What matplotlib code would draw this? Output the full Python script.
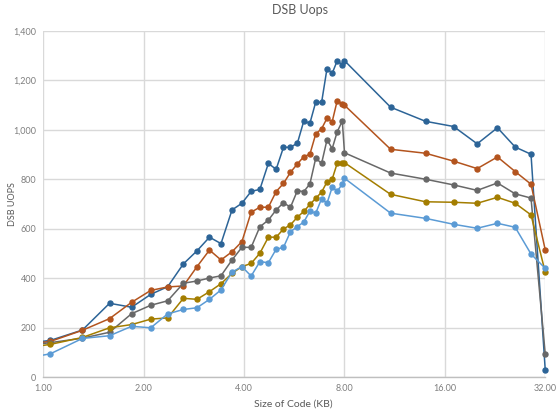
import matplotlib
matplotlib.use("Agg")
import matplotlib.pyplot as plt
from matplotlib.patches import Rectangle
from matplotlib.ticker import FuncFormatter, FixedLocator

plt.rcParams['font.family'] = ['Lato', 'DejaVu Sans']

# Code size in KB (first point sits just left of the axis range)
sizes_kb = [0.79, 1.05, 1.31, 1.58, 1.84, 2.10, 2.36, 2.63, 2.89, 3.15,
            3.41, 3.68, 3.94, 4.20, 4.46, 4.73, 4.99, 5.25, 5.51, 5.78,
            6.04, 6.30, 6.56, 6.83, 7.09, 7.35, 7.61, 7.88, 8.00,
            11, 14, 17, 20, 23, 26, 29, 32]

uops_a = [130, 149, 191, 299, 283, 335, 366, 458, 511, 566,
          540, 676, 703, 751, 759, 864, 840, 929, 929, 946,
          1035, 1026, 1112, 1110, 1247, 1228, 1279, 1262, 1279,
          1091, 1034, 1013, 943, 1008, 930, 901, 28]

uops_b = [125, 145, 190, 237, 303, 351, 365, 369, 447, 514,
          474, 507, 548, 667, 687, 687, 750, 783, 828, 862,
          891, 901, 983, 1004, 1046, 1033, 1118, 1104, 1099,
          921, 905, 873, 843, 890, 831, 780, 514]

uops_c = [120, 140, 158, 182, 257, 291, 309, 380, 389, 401,
          410, 474, 525, 525, 608, 635, 676, 705, 687, 754,
          750, 781, 885, 864, 959, 924, 992, 1035, 907,
          825, 800, 777, 755, 785, 741, 724, 93]

uops_d = [110, 133, 161, 200, 213, 235, 240, 319, 315, 346,
          378, 420, 447, 460, 501, 566, 566, 599, 616, 647,
          670, 698, 723, 748, 789, 801, 865, 867, 867,
          739, 709, 707, 703, 727, 703, 656, 424]

uops_e = [65, 95, 157, 168, 206, 200, 256, 274, 281, 315,
          353, 425, 447, 409, 467, 463, 517, 525, 588, 609,
          627, 671, 663, 721, 703, 768, 752, 780, 804,
          663, 642, 618, 602, 622, 606, 498, 440]

series = [uops_a, uops_b, uops_c, uops_d, uops_e]
colors = ['#2C6497', '#B3541E', '#686868', '#A37D00', '#5B9BD5']

x_ticks = [1, 2, 4, 8, 16, 32]
y_ticks = [0, 200, 400, 600, 800, 1000, 1200, 1400]

fig = plt.figure(figsize=(5.56, 4.12), dpi=100)
ax = fig.add_axes([0.0779, 0.0842, 0.9028, 0.8413])

# clip only on the left so end markers at 32 KB stay whole
clip_box = Rectangle((0, -0.05), 1.05, 1.1, transform=ax.transAxes,
                     fill=False, visible=False)
ax.add_patch(clip_box)

for vals, col in zip(series, colors):
    line, = ax.plot(sizes_kb, vals, color=col, lw=1.1, marker='o', ms=3.6,
                    mec=col, mfc=col, zorder=3)
    line.set_clip_path(clip_box)

ax.set_xscale('log', base=2)
ax.set_xlim(1, 32)
ax.set_ylim(0, 1400)
ax.xaxis.set_major_locator(FixedLocator(x_ticks))
ax.xaxis.set_minor_locator(FixedLocator([]))
ax.xaxis.set_major_formatter(FuncFormatter(lambda v, p: f"{v:.2f}"))
ax.yaxis.set_major_locator(FixedLocator(y_ticks))
ax.yaxis.set_major_formatter(FuncFormatter(lambda v, p: f"{int(v):,}"))

ax.grid(True, color='#D9D9D9', lw=1.0, zorder=0)
ax.set_axisbelow(True)
for side in ['top', 'right', 'left']:
    ax.spines[side].set_visible(False)
ax.spines['bottom'].set_color('#BFBFBF')
ax.spines['bottom'].set_linewidth(1.0)

ax.tick_params(axis='both', length=0, labelsize=6.5, labelcolor='#7F7F7F')
ax.tick_params(axis='x', pad=5)
ax.tick_params(axis='y', pad=5)

fig.text(0.54, 0.975, 'DSB Uops', ha='center', va='center',
         fontsize=9, color='#595959')
fig.text(0.527, 0.02, 'Size of Code (KB)', ha='center', va='center',
         fontsize=7.5, color='#595959')
fig.text(0.023, 0.505, 'DSB UOPS', ha='center', va='center',
         rotation=90, fontsize=6.5, color='#595959')

fig.savefig('out.png', dpi=100)
